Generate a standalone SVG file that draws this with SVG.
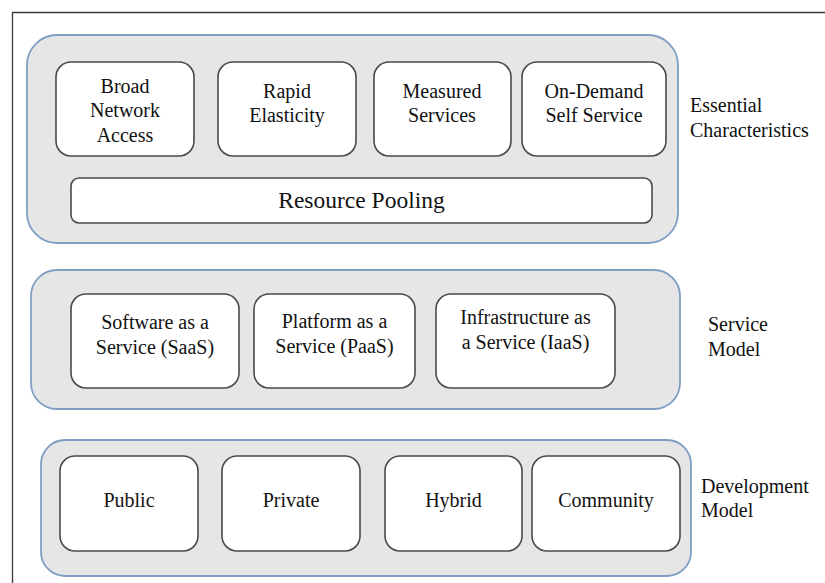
<svg xmlns="http://www.w3.org/2000/svg" width="825" height="583" viewBox="0 0 825 583">
  <style>
    .frame { fill: none; stroke: #3a3a3a; stroke-width: 1.3; }
    .layer { fill: #e6e6e6; stroke: #7f9ec4; stroke-width: 1.8; }
    .box { fill: #ffffff; stroke: #4a4a4a; stroke-width: 1.6; }
    .c { text-anchor: middle; }
  </style>
  <rect x="0" y="0" width="825" height="583" fill="#ffffff"/>
  <!-- outer frame (open to the right and bottom) -->
  <path class="frame" d="M12.5,583 V12.5 H825"/>

  <g font-family="Liberation Serif, Times New Roman, serif" font-size="20" fill="#111111">
  <!-- Essential characteristics layer -->
  <g id="essential-characteristics">
    <rect class="layer" x="27" y="35" width="651" height="208" rx="30"/>
    <text x="690" y="112">Essential</text>
    <text x="690" y="137">Characteristics</text>
  </g>
  <g id="broad-network-access">
    <rect class="box" x="56" y="62" width="138" height="94" rx="15"/>
    <text class="c" x="125" y="93">Broad</text>
    <text class="c" x="125" y="117">Network</text>
    <text class="c" x="125" y="142">Access</text>
  </g>
  <g id="rapid-elasticity">
    <rect class="box" x="218" y="62" width="138" height="94" rx="15"/>
    <text class="c" x="287" y="98">Rapid</text>
    <text class="c" x="287" y="122">Elasticity</text>
  </g>
  <g id="measured-services">
    <rect class="box" x="374" y="62" width="137" height="94" rx="15"/>
    <text class="c" x="442" y="98">Measured</text>
    <text class="c" x="442" y="122">Services</text>
  </g>
  <g id="on-demand-self-service">
    <rect class="box" x="522" y="62" width="144" height="94" rx="15"/>
    <text class="c" x="594" y="98">On-Demand</text>
    <text class="c" x="594" y="122">Self Service</text>
  </g>
  <g id="resource-pooling">
    <rect class="box" x="71" y="178" width="581" height="45" rx="8"/>
    <text class="c" x="361.5" y="208" font-size="23.5">Resource Pooling</text>
  </g>

  <!-- Service model layer -->
  <g id="service-model">
    <rect class="layer" x="31" y="270" width="649" height="139" rx="26"/>
    <text x="708" y="331">Service</text>
    <text x="708" y="356">Model</text>
  </g>
  <g id="saas">
    <rect class="box" x="71" y="294" width="168" height="94" rx="15"/>
    <text class="c" x="155" y="329">Software as a</text>
    <text class="c" x="155" y="354">Service (SaaS)</text>
  </g>
  <g id="paas">
    <rect class="box" x="254" y="294" width="161" height="94" rx="15"/>
    <text class="c" x="334.5" y="328">Platform as a</text>
    <text class="c" x="334.5" y="353">Service (PaaS)</text>
  </g>
  <g id="iaas">
    <rect class="box" x="436" y="294" width="179" height="94" rx="15"/>
    <text class="c" x="525.5" y="324">Infrastructure as</text>
    <text class="c" x="525.5" y="349">a Service (IaaS)</text>
  </g>

  <!-- Development model layer -->
  <g id="development-model">
    <rect class="layer" x="41" y="440" width="650" height="136" rx="24"/>
    <text x="701" y="493">Development</text>
    <text x="701" y="517">Model</text>
  </g>
  <g id="public">
    <rect class="box" x="60" y="456" width="138" height="95" rx="15"/>
    <text class="c" x="129" y="507">Public</text>
  </g>
  <g id="private">
    <rect class="box" x="222" y="456" width="138" height="95" rx="15"/>
    <text class="c" x="291" y="507">Private</text>
  </g>
  <g id="hybrid">
    <rect class="box" x="385" y="456" width="137" height="95" rx="15"/>
    <text class="c" x="453.5" y="507">Hybrid</text>
  </g>
  <g id="community">
    <rect class="box" x="532" y="456" width="148" height="95" rx="15"/>
    <text class="c" x="606" y="507">Community</text>
  </g>
  </g>
</svg>
